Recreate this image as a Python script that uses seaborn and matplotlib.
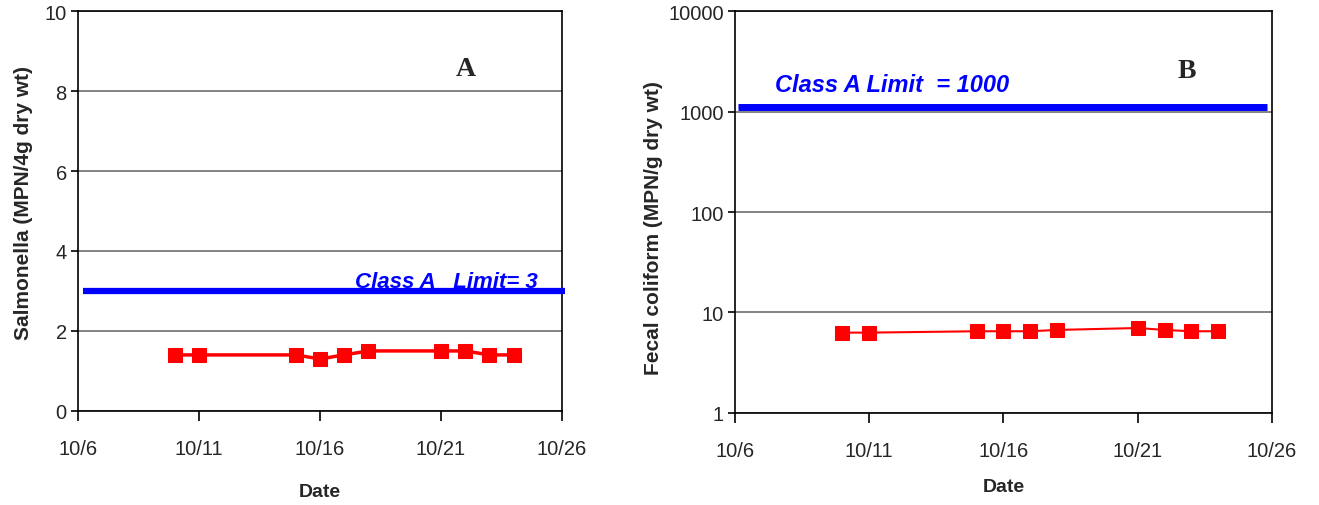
"""
Salmonella und Fecal coliform im Zeitverlauf (Panel A und B)
"""

import matplotlib
matplotlib.use('Agg')
import matplotlib.pyplot as plt
import seaborn as sns
import pandas as pd
import numpy as np

# Daten
dates = ['10/10', '10/11', '10/15', '10/16', '10/17', '10/18', '10/21', '10/22', '10/23', '10/24']
salmonella = [1.4, 1.4, 1.4, 1.3, 1.4, 1.5, 1.5, 1.5, 1.4, 1.4]
fecal_coliform = [6.3, 6.3, 6.5, 6.5, 6.5, 6.7, 7.0, 6.7, 6.5, 6.5]
tick_dates = ['10/6', '10/11', '10/16', '10/21', '10/26']
limit_salmonella = 3
limit_fecal = 1100  # Linie liegt knapp ueber 1000
y_ticks_a = [0, 2, 4, 6, 8, 10]
y_ticks_b = [1, 10, 100, 1000, 10000]

sns.set_style('white')
plt.rcParams['font.family'] = ['Liberation Sans', 'DejaVu Sans']


def to_day(labels):
    return [int(s.split('/')[1]) for s in labels]


df = pd.DataFrame({'day': to_day(dates), 'salmonella': salmonella,
                   'fecal': fecal_coliform})
tick_days = to_day(tick_dates)

fig = plt.figure(figsize=(13.19, 5.06), dpi=100)
ax_a = fig.add_axes([0.0591, 0.186, 0.367, 0.790])
ax_b = fig.add_axes([0.5572, 0.182, 0.4072, 0.794])


def style_axes(ax, ylabel, ylabel_xy, xlabel_y):
    for side in ['left', 'right', 'top', 'bottom']:
        ax.spines[side].set_visible(True)
        ax.spines[side].set_color('black')
        ax.spines[side].set_linewidth(1.2)
    ax.grid(axis='y', color='#7a7a7a', linewidth=1.3)
    ax.grid(axis='x', visible=False)
    ax.set_axisbelow(True)
    ax.set_xlim(tick_days[0], tick_days[-1])
    ax.set_xticks(tick_days)
    ax.set_xticklabels(tick_dates)
    ax.tick_params(axis='x', direction='out', length=7, width=1.2, pad=13,
                   labelsize=14.5, bottom=True, color='black')
    ax.tick_params(axis='y', direction='out', length=5, width=1.2, pad=3,
                   labelsize=14.5, left=True, color='black')
    ax.set_xlabel('Date', fontsize=14, fontweight='bold')
    ax.set_ylabel(ylabel, fontsize=15, fontweight='bold')
    ax.yaxis.set_label_coords(*ylabel_xy)
    ax.xaxis.set_label_coords(0.5, xlabel_y)


# Panel A
sns.lineplot(data=df, x='day', y='salmonella', ax=ax_a, color='red',
             marker='s', markersize=10.5, markeredgecolor='red', linewidth=2.5)
ax_a.axhline(limit_salmonella, xmin=0.01, xmax=1.006, color='blue',
             linewidth=4.5, clip_on=False, zorder=3, solid_capstyle='butt')
ax_a.set_ylim(0, 10)
ax_a.set_yticks(y_ticks_a)
style_axes(ax_a, 'Salmonella (MPN/4g dry wt)', (-0.092, 0.5225), -0.18)
ax_a.text(0.572, 0.31, 'Class A   Limit= 3', transform=ax_a.transAxes,
          color='blue', fontsize=16, fontweight='bold', style='italic')
ax_a.text(0.78, 0.84, 'A', transform=ax_a.transAxes, fontsize=20,
          fontweight='bold', family='Liberation Serif')

# Panel B
sns.lineplot(data=df, x='day', y='fecal', ax=ax_b, color='red',
             marker='s', markersize=10.5, markeredgecolor='red', linewidth=1.5)
ax_b.axhline(limit_fecal, xmin=0.005, xmax=0.99, color='blue',
             linewidth=5, zorder=3, solid_capstyle='butt')
ax_b.set_yscale('log')
ax_b.set_ylim(1, 10000)
ax_b.set_yticks(y_ticks_b)
ax_b.set_yticklabels([str(v) for v in y_ticks_b])
ax_b.yaxis.set_minor_locator(matplotlib.ticker.NullLocator())
style_axes(ax_b, 'Fecal coliform (MPN/g dry wt)', (-0.134, 0.463), -0.163)
ax_b.text(0.0745, 0.80, 'Class A Limit  = 1000', transform=ax_b.transAxes,
          color='blue', fontsize=17, fontweight='bold', style='italic')
ax_b.text(0.825, 0.836, 'B', transform=ax_b.transAxes, fontsize=20,
          fontweight='bold', family='Liberation Serif')

plt.savefig('out.png', dpi=100)
plt.close()
